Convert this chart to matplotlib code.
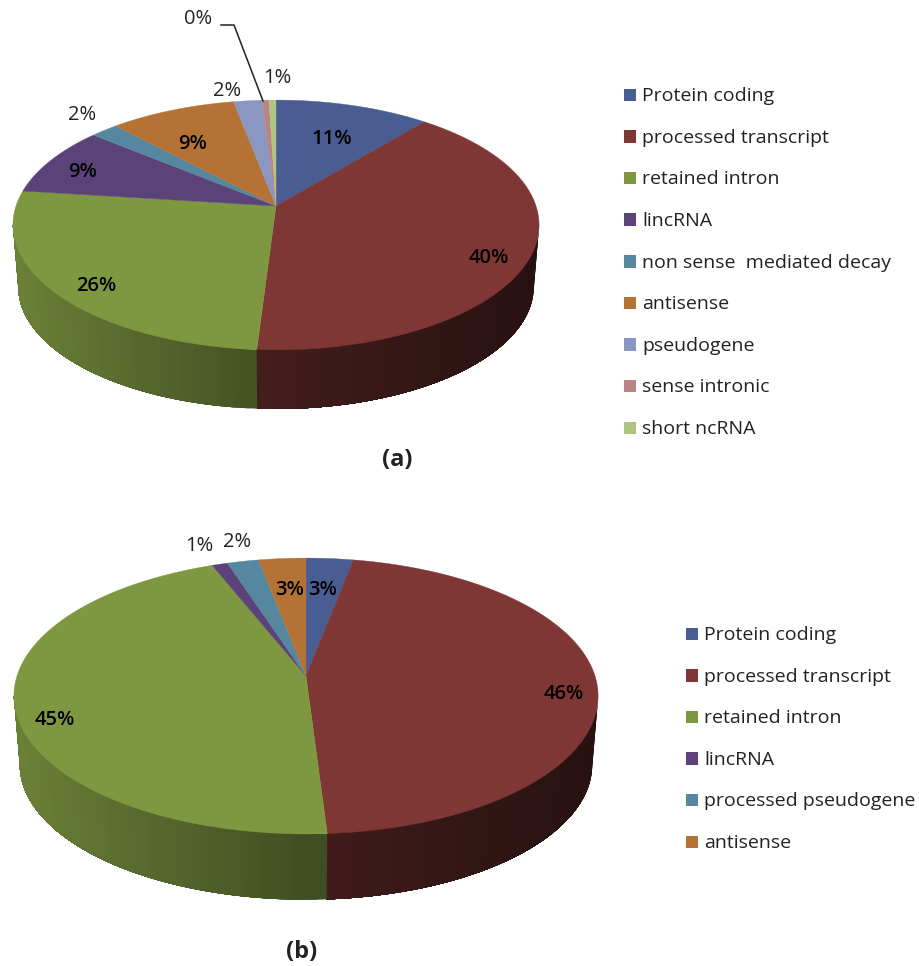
import numpy as np
import matplotlib
matplotlib.use("Agg")
import matplotlib.pyplot as plt
from matplotlib.patches import Rectangle

plt.rcParams['font.family'] = ['Open Sans', 'DejaVu Sans']

# slice shares in percent
names_a = ["Protein coding", "processed transcript", "retained intron", "lincRNA",
           "non sense  mediated decay", "antisense", "pseudogene", "sense intronic", "short ncRNA"]
values_a = [11, 40, 26, 9, 2, 9, 2, 0, 1]

names_b = ["Protein coding", "processed transcript", "retained intron", "lincRNA",
           "processed pseudogene", "antisense"]
values_b = [3, 46, 45, 1, 2, 3]

colors = ["#4A5D92", "#7F3736", "#7E9741", "#5B4279", "#55879E",
          "#B47334", "#8A97C2", "#B88586", "#AFC480"]

# the 0% slice is hidden by rounding, it is really a thin sliver
widths_a = [11, 40, 26, 9, 2, 9, 2, 0.5, 0.5]

LABELS_A = [(332, 138), (489, 257), (96, 285), (83, 171), (82, 114),
            (193, 143), (227, 90), (198, 18), (277, 77)]
LABELS_B = [(323, 589), (564, 693), (55, 719), (199, 545), (237, 541), (290, 589)]
INSIDE_A = [True, True, True, True, False, True, False, False, False]
INSIDE_B = [True, True, True, False, False, True]


def project(theta, apex, a, b, k, scale=1.0, dy=0.0):
    # circle seen in perspective, theta runs clockwise from the far edge
    x, y = np.sin(theta), np.cos(theta)
    d = 1 + k * y
    return apex[0] + scale * a * x / d, apex[1] + dy - scale * b * y / d


def side_shade(color, frac):
    # rim gets darker from left to right
    rgb = np.array(matplotlib.colors.to_rgb(color))
    return tuple(rgb * np.interp(frac, [0, 0.5, 1], [0.85, 0.52, 0.31]))


def pie3d(ax, widths, apex, a, b, k, dy):
    edges = np.cumsum([0] + list(widths)) / 100 * 2 * np.pi
    front_start = np.arccos(-k)
    left, right = apex[0] - a * 1.01, apex[0] + a * 1.01

    # rim first. each strip runs on to the end of its slice and the next one
    # paints over it, that way no seams show between the shading steps
    for i, c in enumerate(colors[:len(widths)]):
        lo = max(edges[i], front_start)
        hi = min(edges[i + 1], 2 * np.pi - front_start)
        if hi <= lo:
            continue
        steps = np.linspace(lo, hi, max(2, int((hi - lo) * 40)))
        for t0 in steps[:-1]:
            t = np.linspace(t0, hi, 80)
            x0, y0 = project(t, apex, a, b, k)
            x1, y1 = project(t[::-1], apex, a, b, k, 0.98, dy)
            frac = (x0[0] - left) / (right - left)
            ax.fill(np.r_[x0, x1], np.r_[y0, y1], color=side_shade(c, frac), lw=0, zorder=1)

    # top face
    for i, c in enumerate(colors[:len(widths)]):
        t = np.linspace(edges[i], edges[i + 1], 200)
        x, y = project(t, apex, a, b, k)
        ax.fill(np.r_[apex[0], x], np.r_[apex[1], y], color=c, lw=0.3, zorder=2)


def legend(ax, names, x, ys):
    for name, c, y in zip(names, colors, ys):
        ax.add_patch(Rectangle((x, y - 6.5), 12.5, 12.5, fc=c, ec="none", zorder=3))
        ax.text(x + 18, y + 1, name, fontsize=14, fontweight="medium", color="#222222",
                ha="left", va="center", zorder=4)


def pct_labels(ax, values, spots, inside):
    for v, (x, y), ins in zip(values, spots, inside):
        ax.text(x, y + 1, f"{v}%", fontsize=14.5, ha="center", va="center",
                color="black" if ins else "#222222",
                fontweight="semibold" if ins else "normal", zorder=5)


fig = plt.figure(figsize=(9.2, 9.66), dpi=100)
ax = fig.add_axes([0, 0, 1, 1])
ax.set_xlim(0, 920)
ax.set_ylim(966, 0)
ax.axis("off")

pie3d(ax, widths_a, (276, 206), 260, 122, 0.152, 62)
pie3d(ax, values_b, (306, 676), 289, 135, 0.145, 69)

pct_labels(ax, values_a, LABELS_A, INSIDE_A)
pct_labels(ax, values_b, LABELS_B, INSIDE_B)

# leader for the 0% label
ax.plot([221, 234, 263], [25, 25, 101], color="#222222", lw=1.1, zorder=6)

legend(ax, names_a, 624, np.linspace(95, 428, len(names_a)))
legend(ax, names_b, 686, np.linspace(634, 842, len(names_b)))

ax.text(397, 460, "(a)", fontsize=17, fontweight="bold", ha="center", va="center", color="#222222")
ax.text(302, 952, "(b)", fontsize=17, fontweight="bold", ha="center", va="center", color="#222222")

fig.savefig("out.png", dpi=100)
